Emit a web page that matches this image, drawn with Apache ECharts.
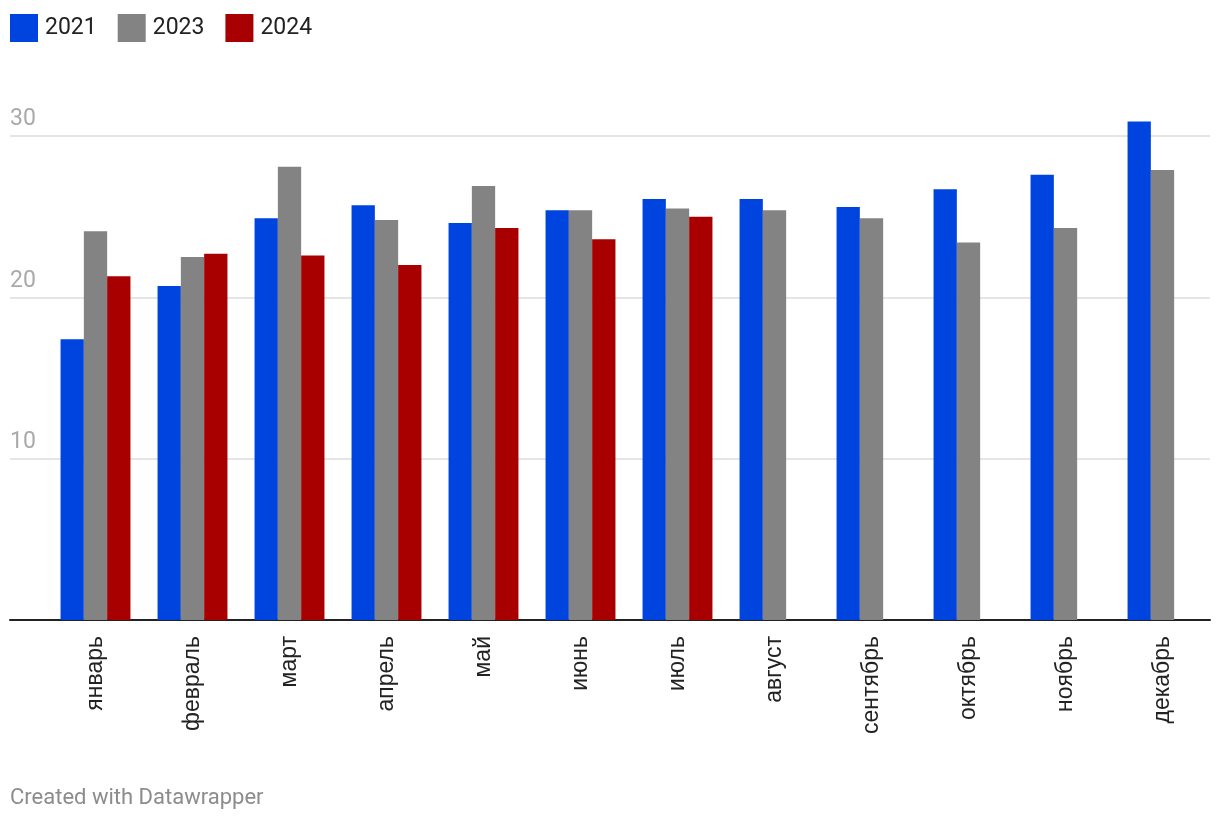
<!DOCTYPE html>
<html><head><meta charset="utf-8">
<script src="https://cdn.jsdelivr.net/npm/echarts@6/dist/echarts.min.js"></script>
<style>html,body{margin:0;padding:0;background:#fff}#c{width:1220px;height:820px}</style>
</head><body><div id="c"></div>
<script>
const months = ['январь','февраль','март','апрель','май','июнь','июль','август','сентябрь','октябрь','ноябрь','декабрь'];
const s2021 = [17.4, 20.7, 24.9, 25.7, 24.6, 25.4, 26.1, 26.1, 25.6, 26.7, 27.6, 30.9];
const s2023 = [24.1, 22.5, 28.1, 24.8, 26.9, 25.4, 25.5, 25.4, 24.9, 23.4, 24.3, 27.9];
const s2024 = [21.3, 22.7, 22.6, 22.0, 24.3, 23.6, 25.0, null, null, null, null, null];
const yTicks = [0, 10, 20, 30];

const chart = echarts.init(document.getElementById('c'), null, {renderer: 'canvas'});
const mk = (name, data, color) => ({
  name, type: 'bar', data, xAxisIndex: 1, yAxisIndex: 1,
  itemStyle: {color}, barWidth: 23.3, barGap: '0%', clip: false, animation: false
});
chart.setOption({
  animation: false,
  legend: {
    left: 10, top: 14, padding: 0, itemWidth: 28, itemHeight: 28, itemGap: 21, icon: 'rect',
    textStyle: {fontFamily: 'Roboto', fontSize: 23, color: '#222', padding: [0,0,0,2]},
    data: ['2021','2023','2024']
  },
  grid: [
    {left: 10, right: 10, top: 136, bottom: 200},
    {left: 47, width: 1164, top: 136, bottom: 200}
  ],
  xAxis: [
    {gridIndex: 0, type: 'value', min: 0, max: 1, axisLine: {show: true, onZero: true, lineStyle: {color: '#222', width: 2}},
     axisTick: {show: false}, axisLabel: {show: false}, splitLine: {show: false}},
    {gridIndex: 1, type: 'category', data: months, axisLine: {show: false}, axisTick: {show: false},
     axisLabel: {rotate: 90, margin: 16, fontFamily: 'Liberation Sans', fontSize: 23, color: '#222', interval: 0}}
  ],
  yAxis: [
    {gridIndex: 0, type: 'value', min: yTicks[0], max: yTicks[yTicks.length-1], interval: 10,
     axisLine: {show: false}, axisTick: {show: false},
     splitLine: {show: true, lineStyle: {color: '#e5e5e5', width: 2}},
     axisLabel: {inside: true, align: 'left', verticalAlign: 'bottom', margin: 0, padding: [0,0,5,0],
       fontFamily: 'Roboto', fontSize: 23, color: '#aaa', formatter: v => v === 0 ? '' : String(v)}},
    {gridIndex: 1, type: 'value', min: yTicks[0], max: yTicks[yTicks.length-1], interval: 10, show: false, splitLine: {show: false}}
  ],
  series: [
    mk('2021', s2021, '#0044e0'),
    mk('2023', s2023, '#838383'),
    mk('2024', s2024, '#a80000')
  ],
  graphic: [{type: 'text', left: 10, top: 787, style: {text: 'Created with Datawrapper', fontFamily: 'Roboto', fontSize: 22, fill: '#8c8c8c'}}]
});
</script></body></html>
